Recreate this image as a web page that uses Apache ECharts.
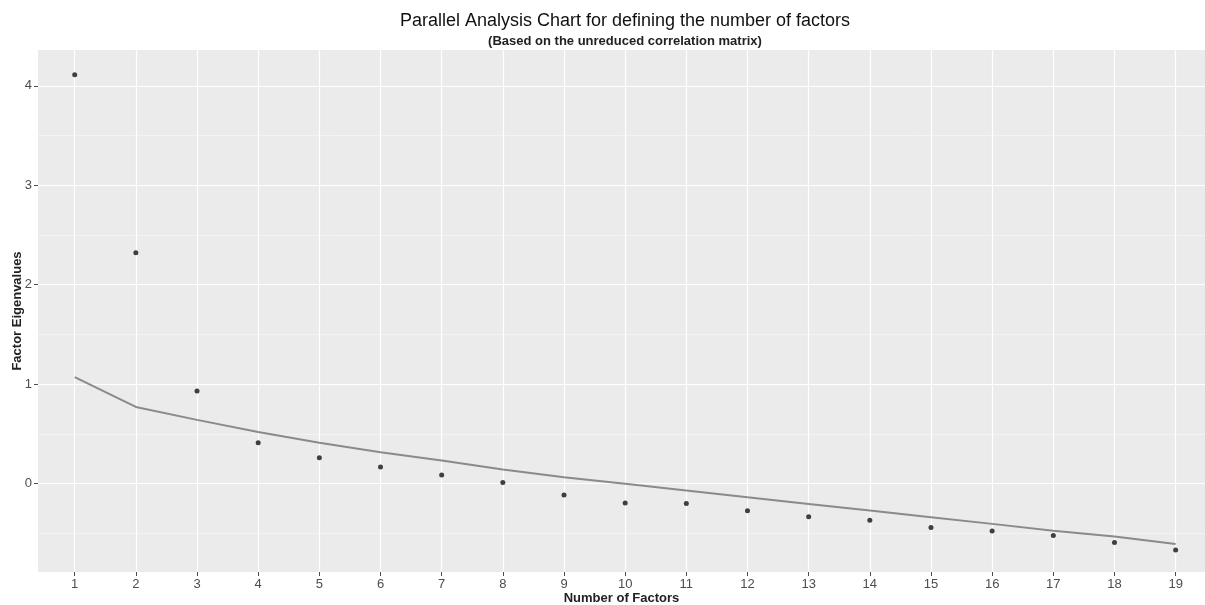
<!DOCTYPE html>
<html>
<head>
<meta charset="utf-8">
<script src="https://cdn.jsdelivr.net/npm/echarts@6/dist/echarts.min.js"></script>
<style>
html,body{margin:0;padding:0;background:#fff;}
.chart{width:1205px;height:605px;}
</style>
</head>
<body>
<div class="chart"></div>
<script>
// 因子个数
var factors = [1, 2, 3, 4, 5, 6, 7, 8, 9, 10, 11, 12, 13, 14, 15, 16, 17, 18, 19];
// 实际特征值(点)
var observed = [4.11, 2.32, 0.93, 0.41, 0.26, 0.165, 0.085, 0.01, -0.115, -0.195, -0.2, -0.275, -0.335, -0.37, -0.443, -0.478, -0.524, -0.594, -0.668];
// 模拟特征值(线)
var simulated = [1.07, 0.77, 0.64, 0.517, 0.41, 0.315, 0.232, 0.141, 0.064, -0.003, -0.07, -0.138, -0.205, -0.272, -0.339, -0.406, -0.474, -0.534, -0.608];
var yTicks = [0, 1, 2, 3, 4];
var yMinor = [-0.5, 0.5, 1.5, 2.5, 3.5];

(function() {
	var myChart = echarts.init(document.querySelector('.chart'))
	let option = {
		animation: false,
		title: {
			text: 'Parallel Analysis Chart for defining the number of factors',
			subtext: '(Based on the unreduced correlation matrix)',
			left: 625,
			top: 12,
			padding: 0,
			itemGap: 5,
			textAlign: 'center',
			textStyle: {
				color: '#111',
				fontFamily: 'Liberation Sans',
				fontSize: 18,
				fontWeight: 'normal'
			},
			subtextStyle: {
				color: '#222',
				fontFamily: 'Liberation Sans',
				fontSize: 13,
				fontWeight: 'bold'
			}
		},
		grid: {
			left: 38,
			right: 0,
			top: 50,
			bottom: 33,
			outerBoundsMode: 'none',
			show: true,
			backgroundColor: '#ebebeb',
			borderWidth: 0
		},
		xAxis: {
			type: 'value',
			min: 0.4,
			max: 19.48,
			name: 'Number of Factors',
			nameLocation: 'middle',
			nameMoveOverlap: false,
			nameGap: 20,
			nameTextStyle: {
				color: '#222',
				fontFamily: 'Liberation Sans',
				fontSize: 13,
				fontWeight: 'bold'
			},
			axisLine: { show: false, onZero: false },
			axisTick: {
				show: true,
				length: 4,
				customValues: factors,
				lineStyle: { color: '#4d4d4d' }
			},
			axisLabel: {
				customValues: factors,
				margin: 6,
				color: '#4d4d4d',
				fontFamily: 'Liberation Sans',
				fontSize: 13
			},
			splitLine: {
				show: true,
				lineStyle: { color: '#fff', width: 1.2 }
			}
		},
		yAxis: [{
			type: 'value',
			min: -0.89,
			max: 4.36,
			name: 'Factor Eigenvalues',
			nameLocation: 'middle',
			nameMoveOverlap: false,
			nameGap: 14,
			nameTextStyle: {
				color: '#222',
				fontFamily: 'Liberation Sans',
				fontSize: 13,
				fontWeight: 'bold'
			},
			axisLine: { show: false, onZero: false },
			axisTick: {
				show: true,
				length: 4,
				customValues: yTicks,
				lineStyle: { color: '#4d4d4d' }
			},
			axisLabel: {
				customValues: yTicks,
				margin: 6,
				color: '#4d4d4d',
				fontFamily: 'Liberation Sans',
				fontSize: 13
			},
			splitLine: {
				show: true,
				lineStyle: { color: '#fff', width: 1.2 }
			}
		}, {
			// 次网格线 0.5
			type: 'value',
			min: -0.89,
			max: 4.36,
			position: 'left',
			axisLine: { show: false, onZero: false },
			axisTick: { show: false, customValues: yMinor },
			axisLabel: { show: false },
			splitLine: {
				show: true,
				lineStyle: { color: '#f5f5f5', width: 0.8 }
			}
		}],
		series: [{
			name: 'simulated',
			type: 'line',
			yAxisIndex: 0,
			symbol: 'none',
			lineStyle: { color: '#8a8a8a', width: 2 },
			data: factors.map(function(f, i) { return [f, simulated[i]] })
		}, {
			name: 'observed',
			type: 'scatter',
			yAxisIndex: 0,
			symbolSize: 5,
			itemStyle: { color: '#111' },
			data: factors.map(function(f, i) { return [f, observed[i]] })
		}]
	};
	myChart.setOption(option);
})();
</script>
</body>
</html>
